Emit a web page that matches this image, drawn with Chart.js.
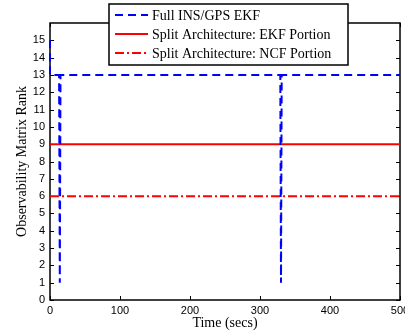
<!DOCTYPE html>
<html>
<head>
<meta charset="utf-8">
<script src="https://cdn.jsdelivr.net/npm/chart.js@4/dist/chart.umd.min.js"></script>
<style>
  html, body { margin: 0; padding: 0; background: #fff; }
  #wrap { width: 405px; height: 334px; }
</style>
</head>
<body>
<div id="wrap"><canvas id="chart" width="405" height="334"></canvas></div>
<script>
// observability rank over time
const timeFull = [0, 0, 13, 14, 15, 329, 330, 331, 500];
const rankFull = [15, 13, 13, 1, 13, 13, 1, 13, 13];
const timeSplit = [0, 500];
const rankEkf = [9, 9];
const rankNcf = [6, 6];

const xTicks = [0, 100, 200, 300, 400, 500];
const yTicks = [0, 1, 2, 3, 4, 5, 6, 7, 8, 9, 10, 11, 12, 13, 14, 15];

const seriesLabels = ['Full INS/GPS EKF', 'Split Architecture: EKF Portion', 'Split Architecture: NCF Portion'];

const BLUE = '#0000ff';
const RED = '#ff0000';

function toPoints(xs, ys) {
    return xs.map((x, i) => ({x: x, y: ys[i]}));
}

// box and inward ticks under the lines, boxed legend on top, matlab style
const framePlugin = {
    id: 'frame',
    beforeDatasetsDraw(chart) {
        const ctx = chart.ctx;
        const a = chart.chartArea;
        const xs = chart.scales.x;
        const ys = chart.scales.y;
        const tl = 4;

        ctx.save();
        ctx.strokeStyle = '#000';
        ctx.lineWidth = 1;
        ctx.beginPath();
        xTicks.forEach(v => {
            const px = Math.round(xs.getPixelForValue(v)) + 0.5;
            ctx.moveTo(px, a.bottom); ctx.lineTo(px, a.bottom - tl);
            ctx.moveTo(px, a.top); ctx.lineTo(px, a.top + tl);
        });
        yTicks.forEach(v => {
            const py = Math.round(ys.getPixelForValue(v)) + 0.5;
            ctx.moveTo(a.left, py); ctx.lineTo(a.left + tl, py);
            ctx.moveTo(a.right, py); ctx.lineTo(a.right - tl, py);
        });
        ctx.stroke();
        ctx.lineWidth = 1.5;
        ctx.strokeRect(a.left, a.top, a.right - a.left, a.bottom - a.top);
        ctx.restore();
    },
    afterDraw(chart) {
        const ctx = chart.ctx;
        ctx.save();
        const lx = 109, ly = 4, lw = 239, lh = 61;
        ctx.fillStyle = '#fff';
        ctx.fillRect(lx, ly, lw, lh);
        ctx.strokeStyle = '#000';
        ctx.lineWidth = 1.5;
        ctx.strokeRect(lx, ly, lw, lh);
        ctx.font = '14px "Liberation Serif", "Times New Roman", serif';
        ctx.textBaseline = 'middle';
        chart.data.datasets.forEach((ds, i) => {
            const cy = ly + 11 + i * 19;
            ctx.strokeStyle = ds.borderColor;
            ctx.lineWidth = 2;
            ctx.setLineDash(ds.borderDash || []);
            ctx.beginPath();
            ctx.moveTo(115, cy);
            ctx.lineTo(148, cy);
            ctx.stroke();
            ctx.setLineDash([]);
            ctx.fillStyle = '#000';
            ctx.fillText(ds.label, 152, cy + 1);
        });
        ctx.restore();
    }
};

new Chart(document.getElementById('chart'), {
    type: 'scatter',
    data: {
        datasets: [{
            label: seriesLabels[0],
            data: toPoints(timeFull, rankFull),
            showLine: true,
            borderColor: BLUE,
            borderWidth: 2,
            borderDash: [8, 5],
            pointRadius: 0,
            clip: false
        }, {
            label: seriesLabels[1],
            data: toPoints(timeSplit, rankEkf),
            showLine: true,
            borderColor: RED,
            borderWidth: 2,
            pointRadius: 0,
            clip: false
        }, {
            label: seriesLabels[2],
            data: toPoints(timeSplit, rankNcf),
            showLine: true,
            borderColor: RED,
            borderWidth: 2,
            borderDash: [9, 3, 2, 3],
            pointRadius: 0,
            clip: false
        }]
    },
    options: {
        responsive: false,
        animation: false,
        layout: {padding: {left: 0, top: 23, right: 5, bottom: 0}},
        plugins: {legend: {display: false}, tooltip: {enabled: false}},
        scales: {
            x: {
                type: 'linear',
                min: 0,
                max: 500,
                afterFit(scale) {
                    scale.height = 34;
                    scale.paddingLeft = 0;
                    scale.paddingRight = 0;
                },
                afterBuildTicks(scale) { scale.ticks = xTicks.map(v => ({value: v})); },
                grid: {display: false, drawTicks: false},
                border: {display: false},
                ticks: {
                    padding: 4,
                    color: '#000',
                    maxRotation: 0,
                    autoSkip: false,
                    font: {family: '"Liberation Sans", Arial, sans-serif', size: 11}
                },
                title: {
                    display: true,
                    text: 'Time (secs)',
                    color: '#000',
                    padding: {top: 0, bottom: 2},
                    font: {family: '"Liberation Serif", "Times New Roman", serif', size: 14}
                }
            },
            y: {
                type: 'linear',
                min: 0,
                max: 16,
                afterFit(scale) {
                    scale.width = 50;
                    scale.paddingTop = 0;
                    scale.paddingBottom = 0;
                },
                afterBuildTicks(scale) { scale.ticks = yTicks.map(v => ({value: v})); },
                grid: {display: false, drawTicks: false},
                border: {display: false},
                ticks: {
                    padding: 5,
                    color: '#000',
                    autoSkip: false,
                    font: {family: '"Liberation Sans", Arial, sans-serif', size: 11}
                },
                title: {
                    display: true,
                    text: 'Observability Matrix Rank',
                    color: '#000',
                    padding: {top: 14, bottom: 0},
                    font: {family: '"Liberation Serif", "Times New Roman", serif', size: 14}
                }
            }
        }
    },
    plugins: [framePlugin]
});
</script>
</body>
</html>
